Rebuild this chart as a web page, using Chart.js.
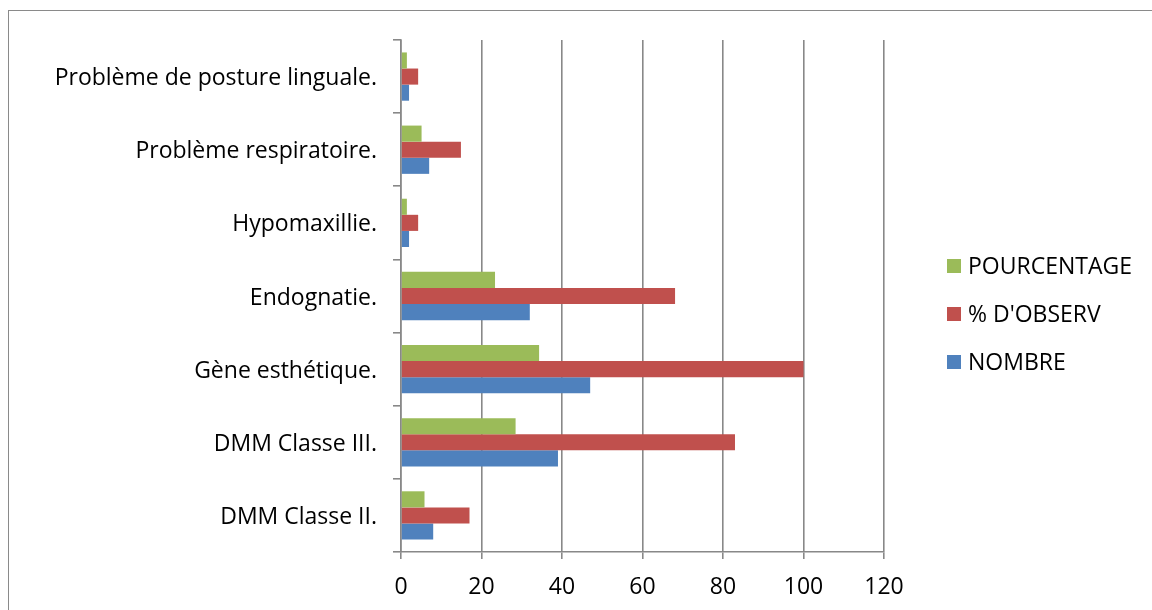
<!DOCTYPE html>
<html>
<head>
<meta charset="utf-8">
<script src="https://cdn.jsdelivr.net/npm/chart.js@4.4.0/dist/chart.umd.min.js"></script>
<style>
  html, body { margin: 0; padding: 0; background: #fff; }
  #wrap { position: relative; width: 1152px; height: 610px; overflow: hidden; }
  #frame { position: absolute; left: 8px; top: 10px; width: 1200px; height: 700px; border: 1px solid #8a8a8a; box-sizing: border-box; }
  canvas { position: absolute; left: 0; top: 0; }
</style>
</head>
<body>
<div id="wrap">
  <div id="frame"></div>
  <canvas id="chart" width="1152" height="610"></canvas>
</div>
<script>
// Categories, top to bottom
const categories = [
  'Problème de posture linguale.',
  'Problème respiratoire.',
  'Hypomaxillie.',
  'Endognatie.',
  'Gène esthétique.',
  'DMM Classe III.',
  'DMM Classe II.'
];

// Series values
const nombre = [2, 7, 2, 32, 47, 39, 8];
const observ = [4.26, 14.89, 4.26, 68.09, 100, 82.98, 17.02];
const pourcentage = [1.46, 5.11, 1.46, 23.36, 34.31, 28.47, 5.84];

const xTicks = [0, 20, 40, 60, 80, 100, 120];

const FONT = "'Open Sans', sans-serif";
const FONT_SIZE = 23;
const GRID = '#888888';

// Legend drawn at the right, same order as the bars in a group
const sideLegend = {
  id: 'sideLegend',
  afterDraw(chart) {
    const ctx = chart.ctx;
    ctx.save();
    ctx.font = FONT_SIZE + 'px ' + FONT;
    ctx.textBaseline = 'middle';
    chart.data.datasets.forEach((ds, i) => {
      const y = 266 + i * 48;
      ctx.fillStyle = ds.backgroundColor;
      ctx.fillRect(947, y - 7, 14, 14);
      ctx.fillStyle = '#000';
      ctx.fillText(ds.label, 968, y + 1);
    });
    ctx.restore();
  }
};

const ctx = document.getElementById('chart').getContext('2d');
new Chart(ctx, {
  type: 'bar',
  data: {
    labels: categories,
    datasets: [
      { label: 'POURCENTAGE', data: pourcentage, backgroundColor: '#9BBB59' },
      { label: "% D'OBSERV", data: observ, backgroundColor: '#C0504D' },
      { label: 'NOMBRE', data: nombre, backgroundColor: '#4F81BD' }
    ]
  },
  options: {
    indexAxis: 'y',
    responsive: false,
    animation: false,
    datasets: {
      bar: { categoryPercentage: 0.66, barPercentage: 1.0 }
    },
    layout: { padding: { top: 40, right: 268, left: 0, bottom: 0 } },
    plugins: {
      legend: { display: false },
      tooltip: { enabled: false }
    },
    scales: {
      x: {
        min: 0,
        max: 120,
        afterBuildTicks: (axis) => { axis.ticks = xTicks.map(v => ({ value: v })); },
        afterFit: (axis) => { axis.height = 58; },
        ticks: {
          color: '#000',
          padding: 15,
          font: { family: FONT, size: FONT_SIZE }
        },
        grid: {
          color: GRID,
          lineWidth: 1.6,
          tickLength: 7,
          tickColor: GRID
        },
        border: { color: GRID, width: 1.6 }
      },
      y: {
        afterFit: (axis) => { axis.width = 401; },
        ticks: {
          color: '#000',
          padding: 16,
          labelOffset: 2,
          font: { family: FONT, size: FONT_SIZE }
        },
        grid: {
          offset: true,
          drawOnChartArea: false,
          tickLength: 8,
          tickColor: GRID,
          lineWidth: 1.6
        },
        border: { color: GRID, width: 1.6 }
      }
    }
  },
  plugins: [sideLegend]
});
</script>
</body>
</html>
